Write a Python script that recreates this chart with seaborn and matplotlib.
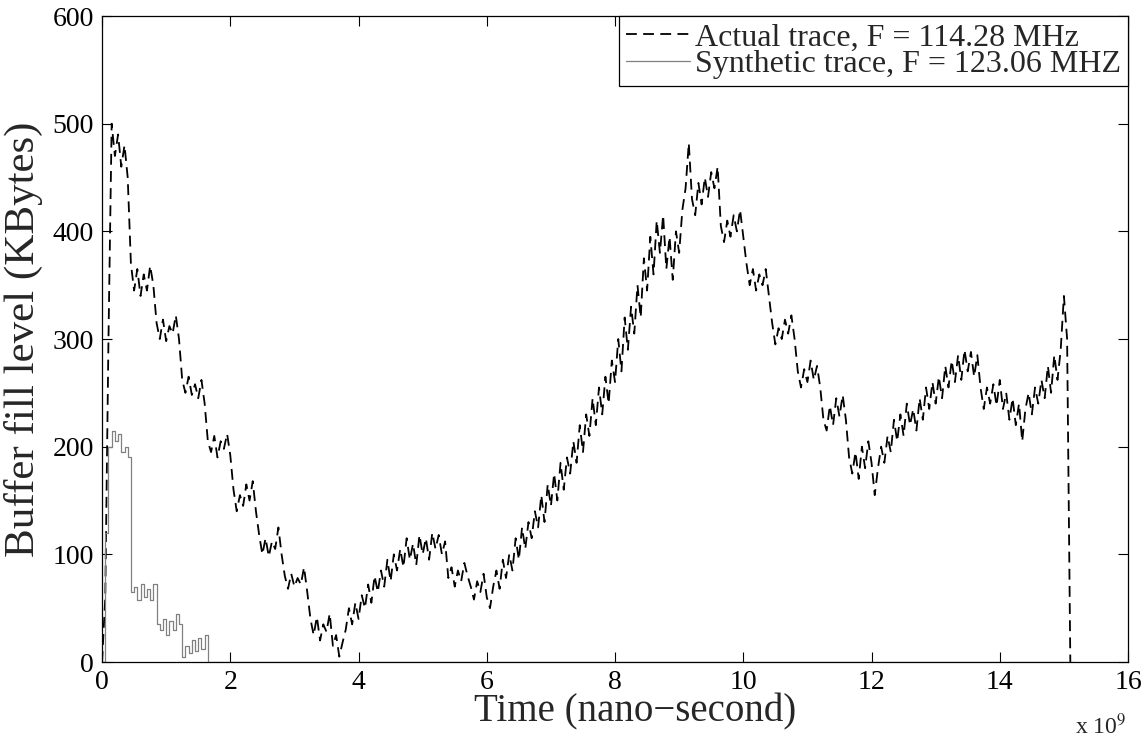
import numpy as np
import pandas as pd
import matplotlib
matplotlib.use("Agg")
import matplotlib.pyplot as plt
import seaborn as sns

# Time axis in units of 1e9 ns, step 0.05
actual_values = [
    0, 60, 300, 500, 470, 490, 460, 480, 450, 370,
    345, 365, 340, 360, 345, 368, 350, 315, 300, 318,
    298, 312, 305, 322, 300, 262, 250, 265, 248, 258,
    245, 262, 240, 205, 195, 210, 190, 205, 198, 212,
    192, 160, 140, 155, 145, 165, 150, 168, 140, 118,
    100, 115, 98, 112, 105, 125, 100, 80, 68, 82,
    70, 78, 72, 88, 65, 40, 25, 42, 20, 35,
    28, 45, 15, 25, 5, 18, 30, 50, 35, 55,
    40, 62, 50, 72, 55, 80, 65, 85, 70, 95,
    75, 100, 85, 105, 88, 115, 95, 110, 90, 118,
    100, 115, 95, 120, 105, 118, 100, 112, 78, 88,
    70, 85, 75, 92, 80, 70, 58, 75, 65, 82,
    60, 50, 70, 85, 68, 95, 78, 100, 85, 115,
    95, 125, 105, 130, 115, 140, 125, 155, 130, 165,
    145, 175, 150, 185, 160, 190, 175, 205, 185, 220,
    195, 230, 210, 245, 220, 255, 230, 265, 240, 280,
    260, 300, 270, 320, 290, 330, 305, 350, 320, 375,
    345, 395, 360, 410, 380, 415, 365, 395, 355, 400,
    380, 420, 440, 482, 430, 415, 445, 425, 450, 432,
    455, 440, 460, 405, 390, 410, 395, 415, 400, 420,
    395, 370, 350, 365, 345, 360, 350, 365, 340, 315,
    295, 310, 300, 318, 305, 322, 300, 270, 255, 272,
    260, 280, 262, 275, 255, 225, 215, 238, 220, 245,
    228, 248, 225, 190, 175, 195, 170, 200, 180, 205,
    185, 155, 180, 200, 185, 210, 195, 225, 205, 230,
    210, 240, 220, 235, 215, 245, 225, 255, 235, 260,
    240, 265, 245, 275, 255, 280, 260, 285, 262, 290,
    270, 288, 265, 285, 255, 235, 255, 240, 258, 238,
    262, 235, 250, 225, 245, 220, 240, 205, 235, 250,
    230, 255, 240, 262, 245, 275, 250, 285, 262, 290,
    340, 300, 0,
]
synthetic_values = [
    0, 120, 200, 215, 205, 212, 195, 200, 190, 65,
    70, 58, 72, 60, 68, 58, 72, 35, 30, 40,
    25, 38, 30, 45, 35, 5, 15, 8, 20, 10,
    22, 12, 25,
]
time_step = 0.05
time_end = 15.15

actual_time = np.arange(len(actual_values)) * time_step
syn_time_part = np.arange(len(synthetic_values)) * time_step
synthetic_time = np.concatenate([syn_time_part, [len(synthetic_values) * time_step, time_end]])
synthetic_full = synthetic_values + [0, 0]

df_actual = pd.DataFrame({"t": actual_time, "v": actual_values})
df_syn = pd.DataFrame({"t": synthetic_time, "v": synthetic_full})

sns.set_style("ticks")
plt.rcParams["font.family"] = ["Liberation Serif", "DejaVu Serif"]
plt.rcParams["mathtext.fontset"] = "stix"

fig = plt.figure(figsize=(11.48, 7.45), dpi=100)
ax = fig.add_axes([0.0889, 0.1114, 0.8937, 0.8671])

sns.lineplot(data=df_actual, x="t", y="v", ax=ax, color="black", linewidth=1.3,
             linestyle=(0, (6, 3.5)), sort=False, estimator=None,
             label="Actual trace, F = 114.28 MHz")
sns.lineplot(data=df_syn, x="t", y="v", ax=ax, color="#808080", linewidth=0.9,
             drawstyle="steps-post", sort=False, estimator=None,
             label="Synthetic trace, F = 123.06 MHZ")

ax.set_xlim(0, 16)
ax.set_ylim(0, 600)
ax.set_xticks(np.arange(0, 17, 2))
ax.set_yticks(np.arange(0, 601, 100))
ax.tick_params(direction="in", top=True, right=True, length=7, width=0.8,
               labelsize=20, colors="black", pad=6)
for s in ax.spines.values():
    s.set_visible(True)
    s.set_color("black")
    s.set_linewidth(0.9)

ax.set_xlabel("Time (nano\u2212second)", fontsize=28)
ax.xaxis.set_label_coords(0.52, -0.048)
ax.set_ylabel("Buffer fill level (KBytes)", fontsize=31)
ax.yaxis.set_label_coords(-0.058, 0.5)
ax.text(0.998, -0.112, r"x 10$^{9}$", transform=ax.transAxes, fontsize=17,
        ha="right", va="baseline")

leg = ax.legend(loc="upper right", borderaxespad=0, fancybox=False,
                edgecolor="black", framealpha=1, fontsize=23,
                handlelength=2.0, handletextpad=0.15, borderpad=0.22,
                labelspacing=-0.08)
leg.get_frame().set_linewidth(0.9)

fig.savefig("out.png", dpi=100)
